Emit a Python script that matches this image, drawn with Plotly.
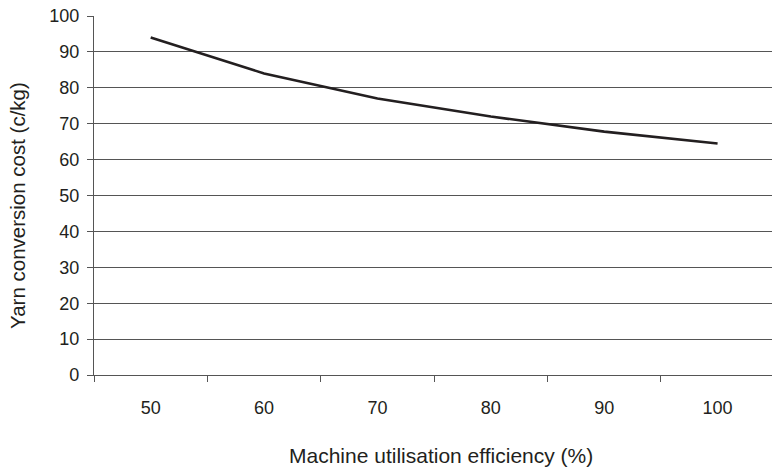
import plotly.graph_objects as go

efficiency = ["50", "60", "70", "80", "90", "100"]
cost = [94, 84, 77, 72, 67.8, 64.5]

x_title = "Machine utilisation efficiency (%)"
y_title = "Yarn conversion cost (c/kg)"

ink = "#231f20"
grid = "#555555"
font_family = "Liberation Sans, Arial, sans-serif"

fig = go.Figure()
fig.add_trace(go.Scatter(
    x=efficiency, y=cost, mode="lines",
    line=dict(color=ink, width=2.6),
    showlegend=False, hoverinfo="skip",
))

W, H = 772, 467
L, R, T, B = 94, 0, 16, 92
pw, ph = W - L - R, H - T - B

fig.update_layout(
    width=W, height=H,
    margin=dict(l=L, r=R, t=T, b=B),
    paper_bgcolor="white", plot_bgcolor="white",
    font=dict(family=font_family, size=18, color=ink),
)
fig.update_xaxes(
    type="category",
    range=[-0.5, 5.48],
    automargin=False,
    showgrid=False,
    showline=True, linecolor=grid, linewidth=1.2,
    ticks="outside", ticklen=6, tickcolor=grid, tickwidth=1.2,
    tickson="boundaries",
    ticklabelstandoff=16,
    zeroline=False,
)
fig.update_yaxes(
    range=[0, 100], dtick=10, tick0=0,
    automargin=False,
    showgrid=True, gridcolor=grid, gridwidth=1.2,
    showline=True, linecolor=grid, linewidth=1.2,
    ticks="outside", ticklen=6, tickcolor=grid, tickwidth=1.2,
    ticklabelstandoff=4,
    zeroline=False,
)

# axis titles as annotations (paper coords derived from pixel layout)
fig.add_annotation(
    text=x_title, xref="paper", yref="paper",
    x=(441 - L) / pw, y=-(455 - (T + ph)) / ph,
    xanchor="center", yanchor="middle", showarrow=False,
    font=dict(size=21, color=ink),
)
fig.add_annotation(
    text=y_title, xref="paper", yref="paper",
    x=-(L - 17) / pw, y=1 - (206 - T) / ph,
    xanchor="center", yanchor="middle", showarrow=False, textangle=-90,
    font=dict(size=20.5, color=ink),
)

fig.write_html(
    "out.html",
    config={"displayModeBar": False},
    post_script="document.body.style.margin='0';document.body.style.overflow='hidden';",
)
